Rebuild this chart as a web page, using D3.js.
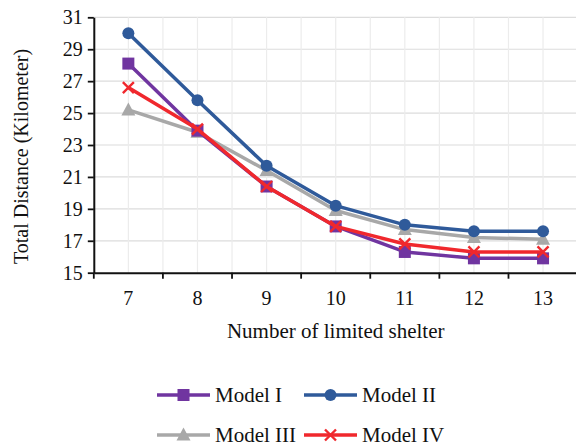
<!DOCTYPE html>
<html>
<head>
<meta charset="utf-8">
<script src="https://cdn.jsdelivr.net/npm/d3@7"></script>
<style>
  body { margin: 0; background: #fff; }
</style>
</head>
<body>
<svg id="chart"></svg>
<script>
// data
var shelters = [7, 8, 9, 10, 11, 12, 13];
var modelI   = [28.1, 23.9, 20.4, 17.9, 16.3, 15.9, 15.9];
var modelII  = [30.0, 25.8, 21.7, 19.2, 18.0, 17.6, 17.6];
var modelIII = [25.2, 23.8, 21.4, 18.9, 17.7, 17.2, 17.1];
var modelIV  = [26.6, 24.0, 20.4, 17.9, 16.8, 16.3, 16.3];
var yTicks = [15, 17, 19, 21, 23, 25, 27, 29, 31];

var series = [
  {name: "Model I",   values: modelI,   color: "#7035A0", shape: "square"},
  {name: "Model II",  values: modelII,  color: "#2F5A9A", shape: "circle"},
  {name: "Model III", values: modelIII, color: "#A8A8A8", shape: "triangle"},
  {name: "Model IV",  values: modelIV,  color: "#F0282D", shape: "cross"}
];
// drawing order (back to front)
var drawOrder = [2, 1, 0, 3];

var FONT = "Liberation Serif";
var W = 576, H = 446;
var mLeft = 93.8, mRight = 577.6, mTop = 17.3, mBottom = 272.7;

var svg = d3.select("#chart").attr("width", W).attr("height", H);

var x = d3.scaleBand().domain(shelters).range([mLeft, mRight]).padding(0);
var y = d3.scaleLinear().domain([15, 31]).range([mBottom, mTop]);

// gridlines
var grid = svg.append("g");
grid.selectAll(".hg").data(yTicks.slice(1)).enter().append("line")
  .attr("x1", mLeft).attr("x2", mRight)
  .attr("y1", function(d){ return y(d); }).attr("y2", function(d){ return y(d); })
  .attr("stroke", "#dcdcdc").attr("stroke-width", 1.2);
var vPos = [];
shelters.forEach(function(s){
  vPos.push(x(s) + x.bandwidth() / 2);
  if (s !== shelters[0]) vPos.push(x(s));
});
grid.selectAll(".vg").data(vPos).enter().append("line")
  .attr("x1", function(d){ return d; }).attr("x2", function(d){ return d; })
  .attr("y1", mTop).attr("y2", mBottom)
  .attr("stroke", "#ececec").attr("stroke-width", 1.2);

// axes
var yAxis = svg.append("g")
  .attr("transform", "translate(" + mLeft + ",0)")
  .call(d3.axisLeft(y).tickValues(yTicks).tickSizeInner(6).tickSizeOuter(0).tickPadding(5));
var xAxis = svg.append("g")
  .attr("transform", "translate(0," + mBottom + ")")
  .call(d3.axisBottom(x).tickSize(0));
xAxis.selectAll(".tick text").attr("y", 32).attr("dy", 0);
// x ticks sit on the band boundaries
var xb = shelters.map(function(s){ return x(s); });
xAxis.selectAll(".bt").data(xb).enter().append("line")
  .attr("x1", function(d){ return d; }).attr("x2", function(d){ return d; })
  .attr("y1", 0).attr("y2", 6)
  .attr("stroke", "#111").attr("stroke-width", 1.8);

[yAxis, xAxis].forEach(function(a){
  a.attr("font-family", FONT).attr("font-size", 20);
  a.select(".domain").attr("stroke", "#111").attr("stroke-width", 2);
  a.selectAll(".tick line").attr("stroke", "#111").attr("stroke-width", 1.8);
  a.selectAll(".tick text").style("font-family", FONT).style("font-size", "20px").attr("fill", "#111");
});

// axis titles
svg.append("text")
  .attr("x", (mLeft + mRight) / 2).attr("y", 338)
  .attr("text-anchor", "middle")
  .style("font-family", FONT).style("font-size", "21px").attr("fill", "#111")
  .text("Number of limited shelter");
svg.append("text")
  .attr("transform", "translate(28,156.5) rotate(-90)")
  .attr("text-anchor", "middle")
  .style("font-family", FONT).style("font-size", "20px").attr("fill", "#111")
  .text("Total Distance (Kilometer)");

function drawMarker(g, shape, color, cx, cy) {
  if (shape === "square") {
    g.append("rect").attr("x", cx - 6).attr("y", cy - 6).attr("width", 12).attr("height", 12).attr("fill", color);
  } else if (shape === "circle") {
    g.append("circle").attr("cx", cx).attr("cy", cy).attr("r", 6).attr("fill", color);
  } else if (shape === "triangle") {
    g.append("path").attr("d", "M" + cx + "," + (cy - 7.5) + "L" + (cx + 7) + "," + (cy + 5.5) + "L" + (cx - 7) + "," + (cy + 5.5) + "Z").attr("fill", color);
  } else {
    g.append("path").attr("d", "M" + (cx - 5.5) + "," + (cy - 5.5) + "L" + (cx + 5.5) + "," + (cy + 5.5) + "M" + (cx + 5.5) + "," + (cy - 5.5) + "L" + (cx - 5.5) + "," + (cy + 5.5))
      .attr("stroke", color).attr("stroke-width", 2.4).attr("fill", "none");
  }
}

var line = d3.line()
  .x(function(d, i){ return x(shelters[i]) + x.bandwidth() / 2; })
  .y(function(d){ return y(d); });

drawOrder.forEach(function(k){
  var s = series[k];
  var g = svg.append("g");
  g.append("path").datum(s.values).attr("d", line)
    .attr("fill", "none").attr("stroke", s.color).attr("stroke-width", 3.5)
    .attr("stroke-linejoin", "round");
  s.values.forEach(function(v, i){
    drawMarker(g, s.shape, s.color, x(shelters[i]) + x.bandwidth() / 2, y(v));
  });
});

// legend
var legendPos = [[157, 395], [304, 395], [157, 435], [304, 435]];
series.forEach(function(s, i){
  var lx = legendPos[i][0], ly = legendPos[i][1];
  var g = svg.append("g");
  g.append("line").attr("x1", lx).attr("x2", lx + 53).attr("y1", ly).attr("y2", ly)
    .attr("stroke", s.color).attr("stroke-width", 3.5);
  drawMarker(g, s.shape, s.color, lx + 26.5, ly);
  g.append("text").attr("x", lx + 58).attr("y", ly + 7)
    .style("font-family", FONT).style("font-size", "21px").attr("fill", "#111")
    .text(s.name);
});
</script>
</body>
</html>
